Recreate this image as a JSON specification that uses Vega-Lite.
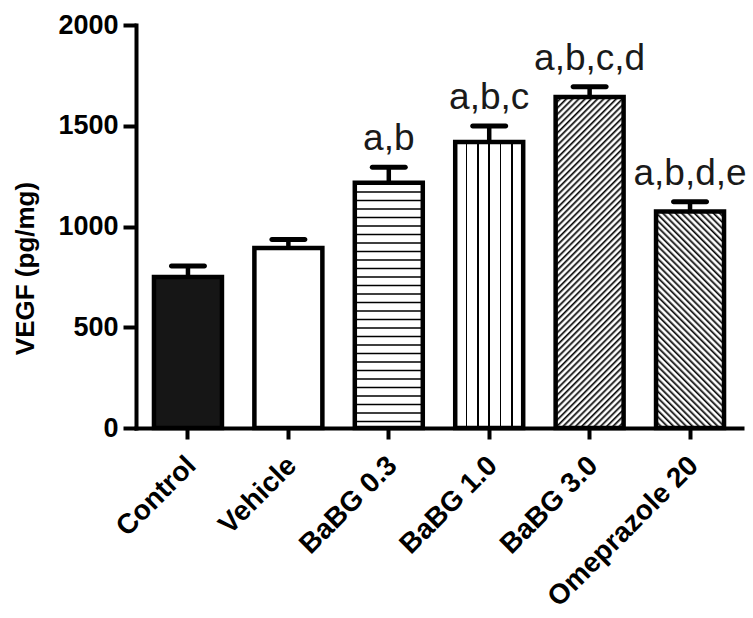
{
  "$schema": "https://vega.github.io/schema/vega-lite/v6.json",
  "width": 606,
  "height": 403,
  "autosize": {"type": "none"},
  "padding": {"left": 136, "top": 25, "right": 11, "bottom": 190},
  "background": "white",
  "config": {
    "view": {"stroke": null},
    "font": "Liberation Sans",
    "axis": {
      "domainColor": "black", "domainWidth": 4, "domainCap": "square",
      "tickColor": "black", "tickWidth": 4, "tickSize": 11,
      "labelColor": "black", "labelFont": "Liberation Sans", "labelFontWeight": "bold",
      "titleColor": "black", "titleFont": "Liberation Sans", "titleFontWeight": "bold",
      "grid": false
    }
  },
  "data": {
    "values": [
      {"group": "Control", "mean": 749, "upper": 804, "label": ""},
      {"group": "Vehicle", "mean": 893, "upper": 936, "label": ""},
      {"group": "BaBG 0.3", "mean": 1217, "upper": 1294, "label": "a,b"},
      {"group": "BaBG 1.0", "mean": 1419, "upper": 1499, "label": "a,b,c"},
      {"group": "BaBG 3.0", "mean": 1643, "upper": 1694, "label": "a,b,c,d"},
      {"group": "Omeprazole 20", "mean": 1075, "upper": 1123, "label": "a,b,d,e"}
    ]
  },
  "encoding": {
    "x": {
      "field": "group", "type": "nominal", "sort": null,
      "scale": {"paddingInner": 0.323, "paddingOuter": 0.179},
      "axis": {
        "title": null, "labelAngle": -45, "labelAlign": "right", "labelBaseline": "middle",
        "labelFontSize": 28, "labelPadding": 22, "labelOffset": 4, "labelLimit": 0
      }
    }
  },
  "layer": [
    {
      "mark": {"type": "bar", "strokeWidth": 0},
      "encoding": {
        "y": {
          "field": "mean", "type": "quantitative", "stack": null,
          "scale": {"domain": [0, 2000], "nice": false},
          "title": "VEGF (pg/mg)",
          "axis": {
            "values": [0, 500, 1000, 1500, 2000], "format": "d", "labelFontSize": 27, "labelPadding": 5, "tickSize": 13,
            "titleFontSize": 26, "titleAngle": 270, "titleAlign": "center", "titleBaseline": "middle",
            "titleX": -111, "titleY": 243
          }
        },
        "fill": {"condition": {"test": "datum.group === 'Control'", "value": "#161616"}, "value": "white"}
      }
    },
    {
      "transform": [{"filter": "datum.group === 'BaBG 0.3'"}],
      "mark": {"type": "rule", "color": "black", "strokeWidth": 68, "strokeDash": [1.6, 6.9], "strokeCap": "butt"},
      "encoding": {
        "y": {"field": "mean", "type": "quantitative", "title": "VEGF (pg/mg)"},
        "y2": {"datum": 0}
      }
    },
    {
      "transform": [{"filter": "datum.group === 'BaBG 1.0'"}],
      "mark": {"type": "bar", "strokeWidth": 0, "fill": {"gradient": "linear", "x1": 0, "y1": 0, "x2": 1, "y2": 0, "stops": [
        {"offset": 0, "color": "#fff"},
        {"offset": 0.1557, "color": "#fff"}, {"offset": 0.1557, "color": "#000"}, {"offset": 0.1777, "color": "#000"}, {"offset": 0.1777, "color": "#fff"},
        {"offset": 0.3223, "color": "#fff"}, {"offset": 0.3223, "color": "#000"}, {"offset": 0.3443, "color": "#000"}, {"offset": 0.3443, "color": "#fff"},
        {"offset": 0.489, "color": "#fff"}, {"offset": 0.489, "color": "#000"}, {"offset": 0.511, "color": "#000"}, {"offset": 0.511, "color": "#fff"},
        {"offset": 0.6557, "color": "#fff"}, {"offset": 0.6557, "color": "#000"}, {"offset": 0.6777, "color": "#000"}, {"offset": 0.6777, "color": "#fff"},
        {"offset": 0.8223, "color": "#fff"}, {"offset": 0.8223, "color": "#000"}, {"offset": 0.8443, "color": "#000"}, {"offset": 0.8443, "color": "#fff"},
        {"offset": 1, "color": "#fff"}
      ]}},
      "encoding": {
        "y": {"field": "mean", "type": "quantitative", "stack": null, "title": "VEGF (pg/mg)"}
      }
    },
    {
      "transform": [{"filter": "datum.group === 'BaBG 3.0'"}],
      "mark": {"type": "bar", "strokeWidth": 0, "fill": {"gradient": "linear", "x1": 0, "y1": 0, "x2": 0.2376, "y2": 1.1566, "stops": [
        {"offset":0,"color":"#000"},{"offset":0.007,"color":"#fff"},{"offset":0.0109,"color":"#fff"},
        {"offset":0.0156,"color":"#000"},{"offset":0.0226,"color":"#fff"},{"offset":0.0265,"color":"#fff"},
        {"offset":0.0313,"color":"#000"},{"offset":0.0383,"color":"#fff"},{"offset":0.0422,"color":"#fff"},
        {"offset":0.0469,"color":"#000"},{"offset":0.0539,"color":"#fff"},{"offset":0.0578,"color":"#fff"},
        {"offset":0.0625,"color":"#000"},{"offset":0.0695,"color":"#fff"},{"offset":0.0734,"color":"#fff"},
        {"offset":0.0781,"color":"#000"},{"offset":0.0851,"color":"#fff"},{"offset":0.089,"color":"#fff"},
        {"offset":0.0938,"color":"#000"},{"offset":0.1008,"color":"#fff"},{"offset":0.1047,"color":"#fff"},
        {"offset":0.1094,"color":"#000"},{"offset":0.1164,"color":"#fff"},{"offset":0.1203,"color":"#fff"},
        {"offset":0.125,"color":"#000"},{"offset":0.132,"color":"#fff"},{"offset":0.1359,"color":"#fff"},
        {"offset":0.1406,"color":"#000"},{"offset":0.1476,"color":"#fff"},{"offset":0.1515,"color":"#fff"},
        {"offset":0.1563,"color":"#000"},{"offset":0.1633,"color":"#fff"},{"offset":0.1672,"color":"#fff"},
        {"offset":0.1719,"color":"#000"},{"offset":0.1789,"color":"#fff"},{"offset":0.1828,"color":"#fff"},
        {"offset":0.1875,"color":"#000"},{"offset":0.1945,"color":"#fff"},{"offset":0.1984,"color":"#fff"},
        {"offset":0.2031,"color":"#000"},{"offset":0.2101,"color":"#fff"},{"offset":0.214,"color":"#fff"},
        {"offset":0.2188,"color":"#000"},{"offset":0.2258,"color":"#fff"},{"offset":0.2297,"color":"#fff"},
        {"offset":0.2344,"color":"#000"},{"offset":0.2414,"color":"#fff"},{"offset":0.2453,"color":"#fff"},
        {"offset":0.25,"color":"#000"},{"offset":0.257,"color":"#fff"},{"offset":0.2609,"color":"#fff"},
        {"offset":0.2656,"color":"#000"},{"offset":0.2726,"color":"#fff"},{"offset":0.2765,"color":"#fff"},
        {"offset":0.2813,"color":"#000"},{"offset":0.2883,"color":"#fff"},{"offset":0.2922,"color":"#fff"},
        {"offset":0.2969,"color":"#000"},{"offset":0.3039,"color":"#fff"},{"offset":0.3078,"color":"#fff"},
        {"offset":0.3125,"color":"#000"},{"offset":0.3195,"color":"#fff"},{"offset":0.3234,"color":"#fff"},
        {"offset":0.3281,"color":"#000"},{"offset":0.3351,"color":"#fff"},{"offset":0.339,"color":"#fff"},
        {"offset":0.3438,"color":"#000"},{"offset":0.3508,"color":"#fff"},{"offset":0.3547,"color":"#fff"},
        {"offset":0.3594,"color":"#000"},{"offset":0.3664,"color":"#fff"},{"offset":0.3703,"color":"#fff"},
        {"offset":0.375,"color":"#000"},{"offset":0.382,"color":"#fff"},{"offset":0.3859,"color":"#fff"},
        {"offset":0.3906,"color":"#000"},{"offset":0.3976,"color":"#fff"},{"offset":0.4015,"color":"#fff"},
        {"offset":0.4063,"color":"#000"},{"offset":0.4133,"color":"#fff"},{"offset":0.4172,"color":"#fff"},
        {"offset":0.4219,"color":"#000"},{"offset":0.4289,"color":"#fff"},{"offset":0.4328,"color":"#fff"},
        {"offset":0.4375,"color":"#000"},{"offset":0.4445,"color":"#fff"},{"offset":0.4484,"color":"#fff"},
        {"offset":0.4531,"color":"#000"},{"offset":0.4601,"color":"#fff"},{"offset":0.464,"color":"#fff"},
        {"offset":0.4688,"color":"#000"},{"offset":0.4758,"color":"#fff"},{"offset":0.4797,"color":"#fff"},
        {"offset":0.4844,"color":"#000"},{"offset":0.4914,"color":"#fff"},{"offset":0.4953,"color":"#fff"},
        {"offset":0.5,"color":"#000"},{"offset":0.507,"color":"#fff"},{"offset":0.5109,"color":"#fff"},
        {"offset":0.5156,"color":"#000"},{"offset":0.5226,"color":"#fff"},{"offset":0.5265,"color":"#fff"},
        {"offset":0.5313,"color":"#000"},{"offset":0.5383,"color":"#fff"},{"offset":0.5422,"color":"#fff"},
        {"offset":0.5469,"color":"#000"},{"offset":0.5539,"color":"#fff"},{"offset":0.5578,"color":"#fff"},
        {"offset":0.5625,"color":"#000"},{"offset":0.5695,"color":"#fff"},{"offset":0.5734,"color":"#fff"},
        {"offset":0.5781,"color":"#000"},{"offset":0.5851,"color":"#fff"},{"offset":0.589,"color":"#fff"},
        {"offset":0.5938,"color":"#000"},{"offset":0.6008,"color":"#fff"},{"offset":0.6047,"color":"#fff"},
        {"offset":0.6094,"color":"#000"},{"offset":0.6164,"color":"#fff"},{"offset":0.6203,"color":"#fff"},
        {"offset":0.625,"color":"#000"},{"offset":0.632,"color":"#fff"},{"offset":0.6359,"color":"#fff"},
        {"offset":0.6406,"color":"#000"},{"offset":0.6476,"color":"#fff"},{"offset":0.6515,"color":"#fff"},
        {"offset":0.6563,"color":"#000"},{"offset":0.6633,"color":"#fff"},{"offset":0.6672,"color":"#fff"},
        {"offset":0.6719,"color":"#000"},{"offset":0.6789,"color":"#fff"},{"offset":0.6828,"color":"#fff"},
        {"offset":0.6875,"color":"#000"},{"offset":0.6945,"color":"#fff"},{"offset":0.6984,"color":"#fff"},
        {"offset":0.7031,"color":"#000"},{"offset":0.7101,"color":"#fff"},{"offset":0.714,"color":"#fff"},
        {"offset":0.7188,"color":"#000"},{"offset":0.7258,"color":"#fff"},{"offset":0.7297,"color":"#fff"},
        {"offset":0.7344,"color":"#000"},{"offset":0.7414,"color":"#fff"},{"offset":0.7453,"color":"#fff"},
        {"offset":0.75,"color":"#000"},{"offset":0.757,"color":"#fff"},{"offset":0.7609,"color":"#fff"},
        {"offset":0.7656,"color":"#000"},{"offset":0.7726,"color":"#fff"},{"offset":0.7765,"color":"#fff"},
        {"offset":0.7813,"color":"#000"},{"offset":0.7883,"color":"#fff"},{"offset":0.7922,"color":"#fff"},
        {"offset":0.7969,"color":"#000"},{"offset":0.8039,"color":"#fff"},{"offset":0.8078,"color":"#fff"},
        {"offset":0.8125,"color":"#000"},{"offset":0.8195,"color":"#fff"},{"offset":0.8234,"color":"#fff"},
        {"offset":0.8281,"color":"#000"},{"offset":0.8351,"color":"#fff"},{"offset":0.839,"color":"#fff"},
        {"offset":0.8438,"color":"#000"},{"offset":0.8508,"color":"#fff"},{"offset":0.8547,"color":"#fff"},
        {"offset":0.8594,"color":"#000"},{"offset":0.8664,"color":"#fff"},{"offset":0.8703,"color":"#fff"},
        {"offset":0.875,"color":"#000"},{"offset":0.882,"color":"#fff"},{"offset":0.8859,"color":"#fff"},
        {"offset":0.8906,"color":"#000"},{"offset":0.8976,"color":"#fff"},{"offset":0.9015,"color":"#fff"},
        {"offset":0.9063,"color":"#000"},{"offset":0.9133,"color":"#fff"},{"offset":0.9172,"color":"#fff"},
        {"offset":0.9219,"color":"#000"},{"offset":0.9289,"color":"#fff"},{"offset":0.9328,"color":"#fff"},
        {"offset":0.9375,"color":"#000"},{"offset":0.9445,"color":"#fff"},{"offset":0.9484,"color":"#fff"},
        {"offset":0.9531,"color":"#000"},{"offset":0.9601,"color":"#fff"},{"offset":0.964,"color":"#fff"},
        {"offset":0.9688,"color":"#000"},{"offset":0.9758,"color":"#fff"},{"offset":0.9797,"color":"#fff"},
        {"offset":0.9844,"color":"#000"},{"offset":0.9914,"color":"#fff"},{"offset":0.9953,"color":"#fff"},
        {"offset":1,"color":"#000"}
      ]}},
      "encoding": {
        "y": {"field": "mean", "type": "quantitative", "stack": null, "title": "VEGF (pg/mg)"}
      }
    },
    {
      "transform": [{"filter": "datum.group === 'Omeprazole 20'"}],
      "mark": {"type": "bar", "strokeWidth": 0, "fill": {"gradient": "linear", "x1": 0, "y1": 1, "x2": 0.3755, "y2": -0.196, "stops": [
        {"offset":0,"color":"#000"},{"offset":0.01,"color":"#fff"},{"offset":0.0156,"color":"#fff"},
        {"offset":0.0222,"color":"#000"},{"offset":0.0322,"color":"#fff"},{"offset":0.0378,"color":"#fff"},
        {"offset":0.0444,"color":"#000"},{"offset":0.0544,"color":"#fff"},{"offset":0.06,"color":"#fff"},
        {"offset":0.0667,"color":"#000"},{"offset":0.0767,"color":"#fff"},{"offset":0.0823,"color":"#fff"},
        {"offset":0.0889,"color":"#000"},{"offset":0.0989,"color":"#fff"},{"offset":0.1045,"color":"#fff"},
        {"offset":0.1111,"color":"#000"},{"offset":0.1211,"color":"#fff"},{"offset":0.1267,"color":"#fff"},
        {"offset":0.1333,"color":"#000"},{"offset":0.1433,"color":"#fff"},{"offset":0.1489,"color":"#fff"},
        {"offset":0.1556,"color":"#000"},{"offset":0.1656,"color":"#fff"},{"offset":0.1712,"color":"#fff"},
        {"offset":0.1778,"color":"#000"},{"offset":0.1878,"color":"#fff"},{"offset":0.1934,"color":"#fff"},
        {"offset":0.2,"color":"#000"},{"offset":0.21,"color":"#fff"},{"offset":0.2156,"color":"#fff"},
        {"offset":0.2222,"color":"#000"},{"offset":0.2322,"color":"#fff"},{"offset":0.2378,"color":"#fff"},
        {"offset":0.2444,"color":"#000"},{"offset":0.2544,"color":"#fff"},{"offset":0.26,"color":"#fff"},
        {"offset":0.2667,"color":"#000"},{"offset":0.2767,"color":"#fff"},{"offset":0.2823,"color":"#fff"},
        {"offset":0.2889,"color":"#000"},{"offset":0.2989,"color":"#fff"},{"offset":0.3045,"color":"#fff"},
        {"offset":0.3111,"color":"#000"},{"offset":0.3211,"color":"#fff"},{"offset":0.3267,"color":"#fff"},
        {"offset":0.3333,"color":"#000"},{"offset":0.3433,"color":"#fff"},{"offset":0.3489,"color":"#fff"},
        {"offset":0.3556,"color":"#000"},{"offset":0.3656,"color":"#fff"},{"offset":0.3712,"color":"#fff"},
        {"offset":0.3778,"color":"#000"},{"offset":0.3878,"color":"#fff"},{"offset":0.3934,"color":"#fff"},
        {"offset":0.4,"color":"#000"},{"offset":0.41,"color":"#fff"},{"offset":0.4156,"color":"#fff"},
        {"offset":0.4222,"color":"#000"},{"offset":0.4322,"color":"#fff"},{"offset":0.4378,"color":"#fff"},
        {"offset":0.4444,"color":"#000"},{"offset":0.4544,"color":"#fff"},{"offset":0.46,"color":"#fff"},
        {"offset":0.4667,"color":"#000"},{"offset":0.4767,"color":"#fff"},{"offset":0.4823,"color":"#fff"},
        {"offset":0.4889,"color":"#000"},{"offset":0.4989,"color":"#fff"},{"offset":0.5045,"color":"#fff"},
        {"offset":0.5111,"color":"#000"},{"offset":0.5211,"color":"#fff"},{"offset":0.5267,"color":"#fff"},
        {"offset":0.5333,"color":"#000"},{"offset":0.5433,"color":"#fff"},{"offset":0.5489,"color":"#fff"},
        {"offset":0.5556,"color":"#000"},{"offset":0.5656,"color":"#fff"},{"offset":0.5712,"color":"#fff"},
        {"offset":0.5778,"color":"#000"},{"offset":0.5878,"color":"#fff"},{"offset":0.5934,"color":"#fff"},
        {"offset":0.6,"color":"#000"},{"offset":0.61,"color":"#fff"},{"offset":0.6156,"color":"#fff"},
        {"offset":0.6222,"color":"#000"},{"offset":0.6322,"color":"#fff"},{"offset":0.6378,"color":"#fff"},
        {"offset":0.6444,"color":"#000"},{"offset":0.6544,"color":"#fff"},{"offset":0.66,"color":"#fff"},
        {"offset":0.6667,"color":"#000"},{"offset":0.6767,"color":"#fff"},{"offset":0.6823,"color":"#fff"},
        {"offset":0.6889,"color":"#000"},{"offset":0.6989,"color":"#fff"},{"offset":0.7045,"color":"#fff"},
        {"offset":0.7111,"color":"#000"},{"offset":0.7211,"color":"#fff"},{"offset":0.7267,"color":"#fff"},
        {"offset":0.7333,"color":"#000"},{"offset":0.7433,"color":"#fff"},{"offset":0.7489,"color":"#fff"},
        {"offset":0.7556,"color":"#000"},{"offset":0.7656,"color":"#fff"},{"offset":0.7712,"color":"#fff"},
        {"offset":0.7778,"color":"#000"},{"offset":0.7878,"color":"#fff"},{"offset":0.7934,"color":"#fff"},
        {"offset":0.8,"color":"#000"},{"offset":0.81,"color":"#fff"},{"offset":0.8156,"color":"#fff"},
        {"offset":0.8222,"color":"#000"},{"offset":0.8322,"color":"#fff"},{"offset":0.8378,"color":"#fff"},
        {"offset":0.8444,"color":"#000"},{"offset":0.8544,"color":"#fff"},{"offset":0.86,"color":"#fff"},
        {"offset":0.8667,"color":"#000"},{"offset":0.8767,"color":"#fff"},{"offset":0.8823,"color":"#fff"},
        {"offset":0.8889,"color":"#000"},{"offset":0.8989,"color":"#fff"},{"offset":0.9045,"color":"#fff"},
        {"offset":0.9111,"color":"#000"},{"offset":0.9211,"color":"#fff"},{"offset":0.9267,"color":"#fff"},
        {"offset":0.9333,"color":"#000"},{"offset":0.9433,"color":"#fff"},{"offset":0.9489,"color":"#fff"},
        {"offset":0.9556,"color":"#000"},{"offset":0.9656,"color":"#fff"},{"offset":0.9712,"color":"#fff"},
        {"offset":0.9778,"color":"#000"},{"offset":0.9878,"color":"#fff"},{"offset":0.9934,"color":"#fff"},
        {"offset":1,"color":"#000"}
      ]}},
      "encoding": {
        "y": {"field": "mean", "type": "quantitative", "stack": null, "title": "VEGF (pg/mg)"}
      }
    },
    {
      "mark": {"type": "bar", "fill": null, "fillOpacity": 0, "stroke": "black", "strokeWidth": 4.5, "strokeJoin": "miter"},
      "encoding": {
        "y": {"field": "mean", "type": "quantitative", "stack": null, "title": "VEGF (pg/mg)"}
      }
    },
    {
      "mark": {"type": "rule", "color": "black", "strokeWidth": 4.5},
      "encoding": {
        "y": {"field": "mean", "type": "quantitative", "title": "VEGF (pg/mg)"},
        "y2": {"field": "upper"}
      }
    },
    {
      "mark": {"type": "tick", "color": "black", "size": 38, "thickness": 5, "cornerRadius": 2.5, "opacity": 1},
      "encoding": {
        "y": {"field": "upper", "type": "quantitative", "title": "VEGF (pg/mg)"}
      }
    },
    {
      "mark": {"type": "text", "fontSize": 37, "font": "Liberation Sans", "color": "#1a1a1a", "baseline": "alphabetic", "dy": -17},
      "encoding": {
        "y": {"field": "upper", "type": "quantitative", "title": "VEGF (pg/mg)"},
        "text": {"field": "label"}
      }
    }
  ]
}
